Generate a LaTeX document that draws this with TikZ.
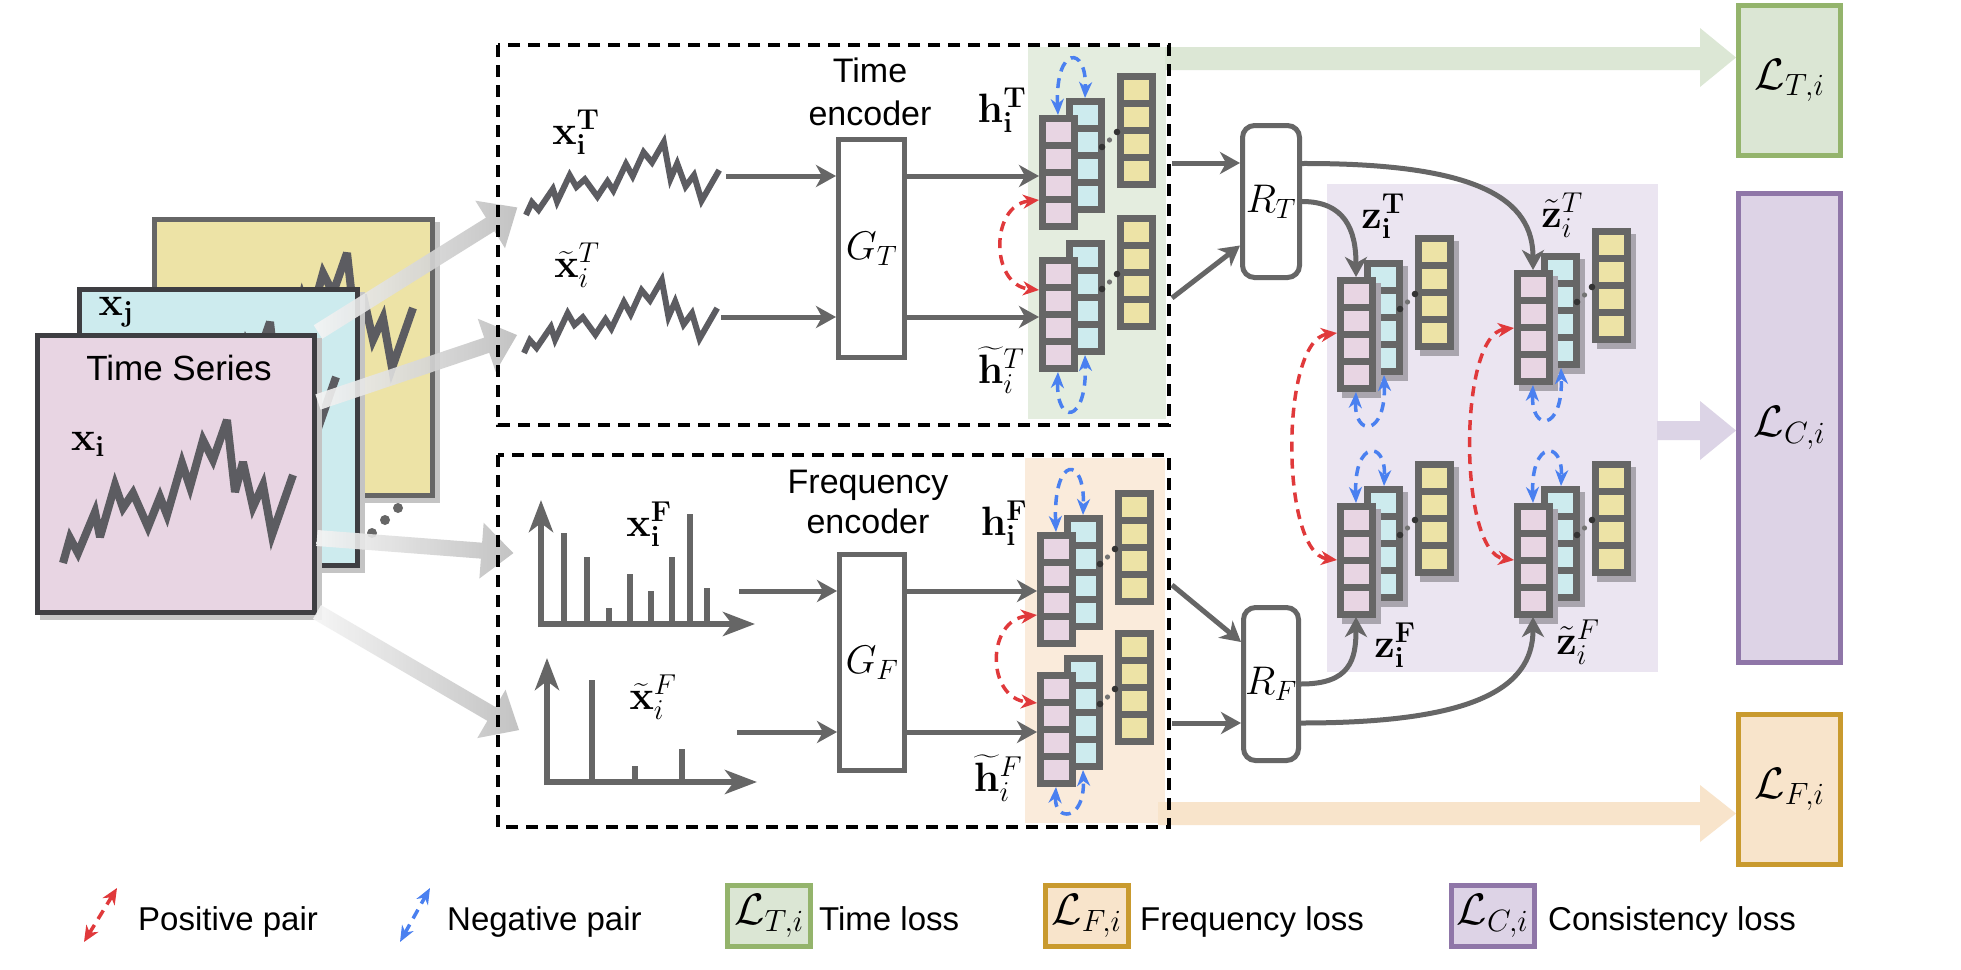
\documentclass[tikz,border=0pt]{standalone}
\usepackage{fix-cm}
\usepackage{amsmath}
\usepackage[no-math]{fontspec}
\newfontfamily\lsans{Liberation Sans}
\usetikzlibrary{arrows.meta,calc}

\definecolor{pinkc}{HTML}{E8D5E3}
\definecolor{cyanc}{HTML}{CDEBEE}
\definecolor{yelc}{HTML}{EDE3A6}
\definecolor{darkb}{HTML}{3E3E42}
\definecolor{gline}{HTML}{666666}
\definecolor{zigc}{HTML}{5C5C61}
\definecolor{greenbg}{HTML}{E4EDDF}
\definecolor{greenband}{HTML}{DCE7D5}
\definecolor{orangebg}{HTML}{FAEBDB}
\definecolor{orangeband}{HTML}{F8E4CB}
\definecolor{purplebg}{HTML}{EBE5F1}
\definecolor{purpleband}{HTML}{DCD4E6}
\definecolor{LTfill}{HTML}{DBE6D4}
\definecolor{LTdraw}{HTML}{94B46C}
\definecolor{LCfill}{HTML}{DDD3E6}
\definecolor{LCdraw}{HTML}{8F76A8}
\definecolor{LFfill}{HTML}{F8E4CB}
\definecolor{LFdraw}{HTML}{C99A2E}
\definecolor{redc}{HTML}{E0393B}
\definecolor{bluec}{HTML}{4A80F0}
\definecolor{shadowc}{HTML}{A9A5AE}
\definecolor{tsshadow}{HTML}{C4C4C4}

\newcommand{\ecol}[4]{%
  \ifnum#4=1 \fill[shadowc] ({#1+5},{#2+6}) rectangle ++(39,115);\fi
  \fill[gline] (#1,#2) rectangle ++(39,115);
  \foreach \k in {0,1,2,3}{\fill[#3] ({#1+7},{#2+7+27*\k}) rectangle ++(25,20);}%
}
\newcommand{\embstack}[3]{%
  \begin{scope}[shift={(#1,#2)}]
    \ecol{27}{-17}{cyanc}{#3}
    \ecol{0}{0}{pinkc}{#3}
    \ecol{78}{-42}{yelc}{#3}
    \fill[black!80] (63,32) circle (3.3);
    \fill[black!55] (70.5,25) circle (2.6);
    \fill[black!80] (78,17) circle (3.3);
  \end{scope}}
\newcommand{\bigarr}[4]{%
  \begin{scope}[shift={(#1,#2)}, rotate=#3]
    \shade[left color=white!92!gray, right color=gray!52, opacity=0.9]
      (0,-8) -- ({#4-32},-8) -- ({#4-32},-28) -- (#4,0) -- ({#4-32},28) -- ({#4-32},8) -- (0,8) -- cycle;
  \end{scope}}
\def\zigpath{(0,0) -- (7,-25) -- (15,-10) -- (32,-51) -- (37,-26) -- (52,-78) -- (60,-55) -- (70,-70) -- (85,-36) -- (97,-66) -- (104,-48) -- (119,-100) -- (127,-76) -- (140,-123) -- (150,-103) -- (164,-143) -- (172,-71) -- (180,-101) -- (190,-56) -- (200,-78) -- (209,-28) -- (230,-88)}

\tikzset{
  lab/.style={inner sep=0pt, font=\fontsize{41}{44}\selectfont},
  txt/.style={inner sep=0pt, font=\lsans\fontsize{34}{40}\selectfont},
  legtxt/.style={inner sep=0pt, anchor=base west, font=\lsans\fontsize{33}{40}\selectfont},
  gbox/.style={draw=gline, line width=5pt, fill=white, inner sep=0pt, font=\fontsize{40}{44}\selectfont},
  garr/.style={draw=gline, line width=5pt, -{Stealth[length=20pt,width=22pt,inset=6pt]}},
  posarr/.style={draw=redc, line width=3.5pt, dash pattern=on 10pt off 7pt,
     {Stealth[length=16pt,width=14pt,inset=5pt]}-{Stealth[length=16pt,width=14pt,inset=5pt]}},
  negarr/.style={draw=bluec, line width=3.5pt, dash pattern=on 10pt off 7pt,
     {Stealth[length=16pt,width=13pt,inset=5pt]}-{Stealth[length=16pt,width=13pt,inset=5pt]}},
  dashbox/.style={draw=black, line width=3.5pt, dash pattern=on 12pt off 8pt},
  zig/.style={draw=zigc, line width=8pt, line join=miter, miter limit=4},
  axisarr/.style={draw=gline, line width=6.5pt, -{Stealth[length=32pt,width=24pt,inset=9pt]}},
  barline/.style={draw=gline, line width=6pt},
  Lbox/.style={line width=5pt, inner sep=0pt, font=\fontsize{44}{48}\selectfont},
}

\begin{document}
\begin{tikzpicture}[x=1pt,y=-1pt]
\useasboundingbox (0,0) rectangle (1961,969);
\fill[white] (0,0) rectangle (1961,969);

% ---------- time series stack ----------
\fill[tsshadow] (157,222) rectangle (440,503);
\filldraw[fill=yelc, draw=gline, line width=5pt] (154.5,219.5) rectangle (432.5,495.5);
\begin{scope}[shift={(183,396)}] \draw[zig] \zigpath; \end{scope}
\fill[tsshadow] (82,292) rectangle (365,573);
\filldraw[fill=cyanc, draw=darkb, line width=5pt] (79.5,289.5) rectangle (357.5,565.5);
\begin{scope}[shift={(106,465)}] \draw[zig] \zigpath; \end{scope}
\fill[tsshadow] (40,338) rectangle (322,620);
\filldraw[fill=pinkc, draw=darkb, line width=5pt] (37.5,335.5) rectangle (314.5,612.5);
\begin{scope}[shift={(63,563)}] \draw[zig] \zigpath; \end{scope}
\node[txt, anchor=base, font=\lsans\fontsize{35}{40}\selectfont] (tslabel) at (179,380) {Time Series};
\node[lab] (xi) at (88,444) {$\mathbf{x_i}$};
\node[lab] (xj) at (116,312) {$\mathbf{x_j}$};
\fill[gline] (372,533) circle (5) (385,520) circle (5) (398,508) circle (5);

% big gray arrows
\bigarr{318}{332}{32}{235}
\bigarr{318}{402}{18.6}{210}
\bigarr{317}{538}{-4.4}{197}
\bigarr{317}{612}{-30.3}{234}

% ---------- background regions and loss bands ----------
\fill[greenbg] (1028,47) rectangle (1166,419);
\fill[greenband] (1165,47) -- (1700,47) -- (1700,28) -- (1736,57.5) -- (1700,87) -- (1700,70) -- (1165,70) -- cycle;
\fill[orangebg] (1025,458) rectangle (1165,823);
\fill[orangeband] (1158,802) -- (1700,802) -- (1700,785) -- (1736,813.5) -- (1700,842) -- (1700,825) -- (1158,825) -- cycle;
\fill[purplebg] (1327,184) rectangle (1658,672);
\fill[purpleband] (1657,421) -- (1700,421) -- (1700,401) -- (1736,430.5) -- (1700,460) -- (1700,440) -- (1657,440) -- cycle;

% dashed boxes
\draw[dashbox] (498,45) rectangle (1169,425);
\draw[dashbox] (498,455) rectangle (1169,827);

% ---------- time branch ----------
\begin{scope}[shift={(526,215)}, xscale=0.84, yscale=0.51] \draw[zig, line width=6pt] \zigpath; \end{scope}
\begin{scope}[shift={(524,353)}, xscale=0.84, yscale=0.51] \draw[zig, line width=6pt] \zigpath; \end{scope}
\node[lab] (xT) at (576,132) {$\mathbf{x_i^T}$};
\node[lab] (xtT) at (577,265) {$\widetilde{\mathbf{x}}_i^T$};
\node[txt, anchor=base] (tenc1) at (870,82) {Time};
\node[txt, anchor=base] (tenc2) at (870,125) {encoder};
\node[gbox, minimum width=66, minimum height=218] (GT) at (871.5,248.5) {$G_T$};

\embstack{1039}{115}{0}
\embstack{1039}{257}{0}
\coordinate (hTp) at (1039,115);
\coordinate (hTtp) at (1039,257);
\coordinate (zt1) at (726,176);
\coordinate (zt2) at (721,317);
\draw[garr] (zt1) -- (zt1 -| GT.west);
\draw[garr] (zt2) -- (zt2 -| GT.west);
\draw[garr] (GT.east |- zt1) -- (hTp |- zt1);
\draw[garr] (GT.east |- zt2) -- (hTtp |- zt2);
\draw[posarr] (1039,200) .. controls (990,205) and (990,285) .. (1039,290);
\draw[negarr] (1058,115) .. controls (1055,45) and (1087,45) .. (1085,98);
\draw[negarr] (1058,372) .. controls (1056,425) and (1087,425) .. (1085,355);
\node[lab] (hT) at (1002,110) {$\mathbf{h_i^T}$};
\node[lab] (htT) at (1001,370) {$\widetilde{\mathbf{h}}_i^T$};

% ---------- frequency branch ----------
\draw[axisarr] (541,627) -- (541,500);
\draw[axisarr] (538,624) -- (755,624);
\foreach \bx/\by in {564/533, 587/557, 609/608, 630/574, 651/591, 672/557, 690/514, 707/588}
  \draw[barline] (\bx,622) -- (\bx,\by);
\draw[axisarr] (547,785) -- (547,658);
\draw[axisarr] (544,782) -- (757,782);
\foreach \bx/\by in {592/680, 635/766, 682/749}
  \draw[barline] (\bx,780) -- (\bx,\by);
\node[lab] (xF) at (649,524) {$\mathbf{x_i^F}$};
\node[lab] (xtF) at (653,697) {$\widetilde{\mathbf{x}}_i^F$};
\node[txt, anchor=base] (fenc1) at (868,493) {Frequency};
\node[txt, anchor=base] (fenc2) at (868,533) {encoder};
\node[gbox, minimum width=65, minimum height=216] (GF) at (872,662.5) {$G_F$};

\embstack{1037}{532}{0}
\embstack{1037}{672}{0}
\coordinate (hFp) at (1037,532);
\coordinate (hFtp) at (1037,672);
\coordinate (sf1) at (739,591);
\coordinate (sf2) at (737,732);
\draw[garr] (sf1) -- (sf1 -| GF.west);
\draw[garr] (sf2) -- (sf2 -| GF.west);
\draw[garr] (GF.east |- sf1) -- (hFp |- sf1);
\draw[garr] (GF.east |- sf2) -- (hFtp |- sf2);
\draw[posarr] (1037,615) .. controls (986,620) and (986,698) .. (1037,703);
\draw[negarr] (1056,532) .. controls (1053,455) and (1085,455) .. (1083,515);
\draw[negarr] (1056,787) .. controls (1054,822) and (1085,822) .. (1083,770);
\node[lab] (hF) at (1004,523) {$\mathbf{h_i^F}$};
\node[lab] (htF) at (998,778) {$\widetilde{\mathbf{h}}_i^F$};

% ---------- projectors ----------
\node[gbox, rounded corners=12pt, minimum width=57, minimum height=152] (RT) at (1271,201.5) {$R_T$};
\node[gbox, rounded corners=12pt, minimum width=55, minimum height=153] (RF) at (1271,684) {$R_F$};
\coordinate (oT1) at (1172,163);
\coordinate (oT2) at (1172,298);
\coordinate (oF1) at (1172,585);
\coordinate (oF2) at (1172,723);
\draw[garr] (oT1) -- (oT1 -| RT.west);
\draw[garr] (oT2) -- ($(RT.west)+(0,44)$);
\draw[garr] (oF1) -- ($(RF.west)+(0,-42)$);
\draw[garr] (oF2) -- (oF2 -| RF.west);

% ---------- z stacks ----------
\embstack{1337}{277}{1}
\embstack{1514}{270}{1}
\embstack{1337}{503}{1}
\embstack{1514}{503}{1}
\coordinate (zTtop) at (1356,277);
\coordinate (ztTtop) at (1533,270);
\coordinate (zFbot) at (1356,617);
\coordinate (ztFbot) at (1533,617);
\draw[garr] ($(RT.east)+(0,-38)$) .. controls (1480,163) and (1533,200) .. (ztTtop);
\draw[garr] (RT.east) .. controls (1345,201.5) and (1356,230) .. (zTtop);
\draw[garr] (RF.east) .. controls (1350,684) and (1356,660) .. (zFbot);
\draw[garr] ($(RF.east)+(0,39)$) .. controls (1470,723) and (1533,690) .. (ztFbot);
\draw[posarr] (1337,333) .. controls (1280,340) and (1280,553) .. (1337,560);
\draw[posarr] (1514,328) .. controls (1458,335) and (1458,553) .. (1514,560);
\draw[negarr] (1356,392) .. controls (1354,437) and (1386,437) .. (1384,375);
\draw[negarr] (1533,385) .. controls (1531,432) and (1563,432) .. (1561,368);
\draw[negarr] (1356,503) .. controls (1354,440) and (1386,440) .. (1384,486);
\draw[negarr] (1533,503) .. controls (1531,440) and (1563,440) .. (1561,486);
\node[lab] (zT) at (1383,216) {$\mathbf{z_i^T}$};
\node[lab] (ztT) at (1562,215) {$\tilde{\mathbf{z}}_i^T$};
\node[lab] (zF) at (1395,645) {$\mathbf{z_i^F}$};
\node[lab] (ztF) at (1578,642) {$\tilde{\mathbf{z}}_i^F$};

% ---------- losses ----------
\node[Lbox, draw=LTdraw, fill=LTfill, minimum width=102, minimum height=150] (LT) at (1789.5,80.5) {$\mathcal{L}_{T,i}$};
\node[Lbox, draw=LCdraw, fill=LCfill, minimum width=102, minimum height=469] (LC) at (1789.5,428) {$\mathcal{L}_{C,i}$};
\node[Lbox, draw=LFdraw, fill=LFfill, minimum width=102, minimum height=150] (LF) at (1789.5,789.5) {$\mathcal{L}_{F,i}$};

% ---------- legend ----------
\coordinate (lp1) at (84,942); \coordinate (lp2) at (117,888);
\draw[posarr] (lp1) -- (lp2);
\node[legtxt] (lpt) at (138,930) {Positive pair};
\coordinate (ln1) at (400,942); \coordinate (ln2) at (430,888);
\draw[negarr] (ln1) -- (ln2);
\node[legtxt] (lnt) at (447,930) {Negative pair};
\node[Lbox, draw=LTdraw, fill=LTfill, minimum width=83, minimum height=61] (lLT) at (769,916) {$\mathcal{L}_{T,i}$};
\node[legtxt] (lLTt) at (819,930) {Time loss};
\node[Lbox, draw=LFdraw, fill=LFfill, minimum width=83, minimum height=61] (lLF) at (1086.5,916) {$\mathcal{L}_{F,i}$};
\node[legtxt] (lLFt) at (1140,930) {Frequency loss};
\node[Lbox, draw=LCdraw, fill=LCfill, minimum width=83, minimum height=61] (lLC) at (1492.5,916) {$\mathcal{L}_{C,i}$};
\node[legtxt] (lLCt) at (1548,930) {Consistency loss};
\end{tikzpicture}
\end{document}
